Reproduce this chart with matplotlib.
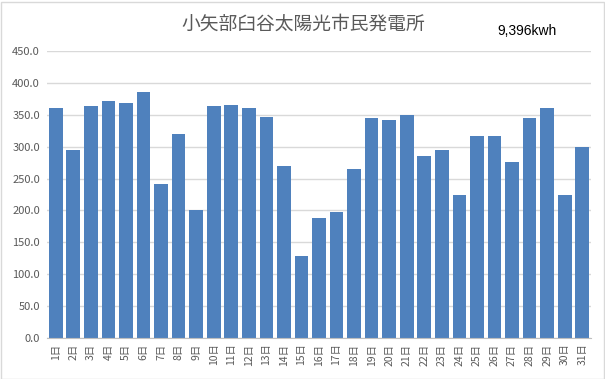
import matplotlib
matplotlib.use("Agg")
import matplotlib.pyplot as plt
from matplotlib.patches import Rectangle

plt.rcParams['font.family'] = ['Noto Sans CJK JP', 'DejaVu Sans']

days = [f"{i}日" for i in range(1, 32)]
values = [361, 295, 363, 371, 369, 385, 242, 320, 201, 364, 366, 360, 347, 269, 129,
          188.5, 198, 265, 345.5, 342, 349, 286, 294, 225, 316, 316, 276, 345.5, 361, 225, 300]
title = "小矢部臼谷太陽光市民発電所"
total_label = "9,396kwh"
yticks = [0, 50, 100, 150, 200, 250, 300, 350, 400, 450]

W, H = 605, 379
fig = plt.figure(figsize=(W / 100, H / 100), dpi=100)
fig.patches.append(Rectangle((0.5 / W, 0.5 / H), 1 - 2 / W, 1 - 2 / H, transform=fig.transFigure,
                             fill=False, edgecolor='#D9D9D9', linewidth=1))

left, right, bottom, top = 47, 591, 338, 51
ax = fig.add_axes([left / W, 1 - bottom / H, (right - left) / W, (bottom - top) / H])

x = list(range(len(days)))
ax.bar(x, values, width=0.78, color='#4F81BD', zorder=3)
ax.set_xlim(-0.5, len(days) - 0.5)
ax.set_ylim(0, 450)
ax.set_yticks(yticks)
ax.set_yticklabels([f"{v:.1f}" for v in yticks], fontsize=8, color='#595959')
ax.set_xticks(x)
ax.set_xticklabels(days, rotation=90, fontsize=7.5, color='#595959', va='top', ha='center')
ax.tick_params(axis='both', length=0)
ax.tick_params(axis='x', pad=4)
ax.tick_params(axis='y', pad=5)
ax.grid(axis='y', color='#D9D9D9', linewidth=1, zorder=0)
for s in ['top', 'right', 'left']:
    ax.spines[s].set_visible(False)
ax.spines['bottom'].set_color('#BFBFBF')
ax.spines['bottom'].set_zorder(4)

fig.text(303 / W, 1 - 24.5 / H, title, ha='center', va='center', fontsize=13.5, color='#595959')
fig.text(527 / W, 1 - 31 / H, total_label, ha='center', va='center', fontsize=10, color='black',
         family=['Liberation Sans'])

fig.savefig('out.png', dpi=100)
